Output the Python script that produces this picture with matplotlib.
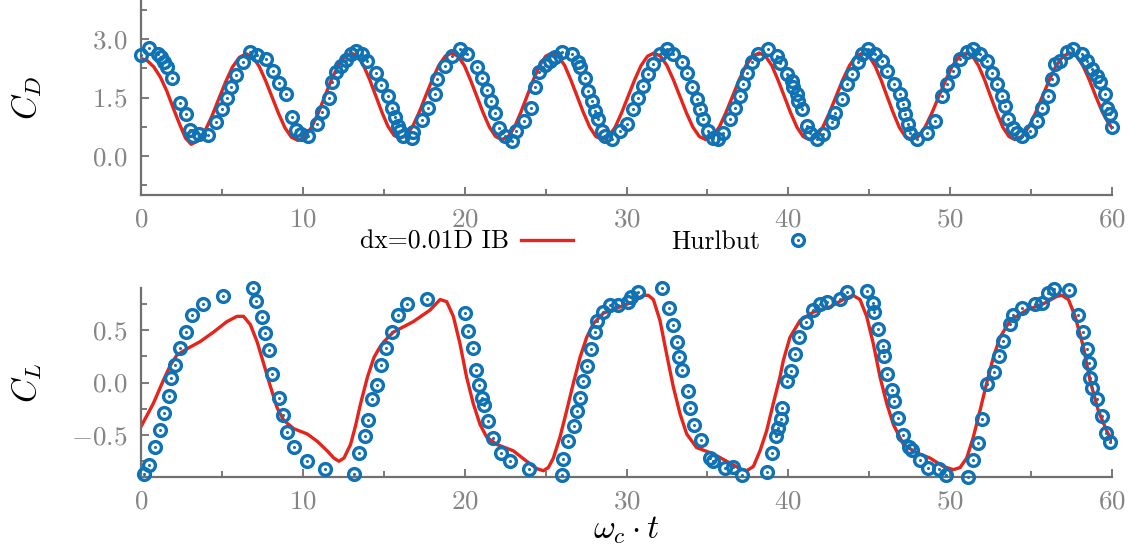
import matplotlib
matplotlib.use("Agg")
import matplotlib.pyplot as plt
from matplotlib.ticker import MultipleLocator, FuncFormatter
from matplotlib.legend_handler import HandlerTuple

plt.rcParams['mathtext.fontset'] = 'cm'
plt.rcParams['font.family'] = ['cmr10', 'DejaVu Serif']
plt.rcParams['axes.unicode_minus'] = False

# ---------------- data ----------------
# Drag coefficient, IB simulation (red line)
cd_ib_t = [0.00, 0.40, 0.80, 1.20, 1.60, 2.00, 2.40, 2.75, 3.10, 3.53, 3.95, 4.38, 4.80, 5.23, 5.65, 6.08,
           6.50, 6.90, 7.30, 7.70, 8.10, 8.50, 8.90, 9.30, 9.70, 10.11, 10.53, 10.94, 11.35, 11.76, 12.18,
           12.59, 13.00, 13.38, 13.75, 14.13, 14.50, 14.88, 15.25, 15.63, 16.00, 16.40, 16.80, 17.20, 17.60,
           18.00, 18.40, 18.80, 19.20, 19.59, 19.98, 20.36, 20.75, 21.14, 21.53, 21.91, 22.30, 22.69, 23.08,
           23.46, 23.85, 24.24, 24.63, 25.01, 25.40, 25.79, 26.18, 26.56, 26.95, 27.34, 27.73, 28.11, 28.50,
           28.90, 29.30, 29.70, 30.10, 30.50, 30.90, 31.30, 31.70, 32.10, 32.50, 32.90, 33.30, 33.70, 34.10,
           34.50, 34.90, 35.31, 35.73, 36.14, 36.55, 36.96, 37.38, 37.79, 38.20, 38.59, 38.98, 39.36, 39.75,
           40.14, 40.53, 40.91, 41.30, 41.71, 42.13, 42.54, 42.95, 43.36, 43.78, 44.19, 44.60, 44.98, 45.35,
           45.73, 46.10, 46.48, 46.85, 47.23, 47.60, 48.03, 48.45, 48.88, 49.30, 49.73, 50.15, 50.58, 51.00,
           51.38, 51.75, 52.13, 52.50, 52.88, 53.25, 53.63, 54.00, 54.43, 54.85, 55.28, 55.70, 56.13, 56.55,
           56.98, 57.40, 57.80, 58.20, 58.60, 59.00, 59.40, 59.70, 60.00]
cd_ib = [2.50, 2.44, 2.28, 2.02, 1.66, 1.22, 0.80, 0.46, 0.30, 0.39, 0.64, 1.02, 1.46, 1.90, 2.28, 2.53,
         2.62, 2.54, 2.30, 1.93, 1.51, 1.09, 0.72, 0.48, 0.40, 0.49, 0.73, 1.09, 1.52, 1.95, 2.31,
         2.55, 2.64, 2.56, 2.32, 1.96, 1.55, 1.13, 0.77, 0.53, 0.45, 0.53, 0.77, 1.13, 1.55,
         1.96, 2.32, 2.56, 2.64, 2.56, 2.32, 1.95, 1.53, 1.11, 0.74, 0.50, 0.42, 0.50, 0.74,
         1.11, 1.53, 1.95, 2.32, 2.56, 2.64, 2.56, 2.32, 1.95, 1.53, 1.11, 0.74, 0.50, 0.42,
         0.50, 0.74, 1.11, 1.53, 1.95, 2.32, 2.56, 2.64, 2.56, 2.32, 1.95, 1.53, 1.11, 0.74,
         0.50, 0.42, 0.50, 0.74, 1.11, 1.53, 1.95, 2.32, 2.56, 2.64, 2.56, 2.32, 1.95, 1.53,
         1.11, 0.74, 0.50, 0.42, 0.50, 0.74, 1.11, 1.53, 1.95, 2.32, 2.56, 2.64, 2.56, 2.32,
         1.95, 1.53, 1.11, 0.74, 0.50, 0.42, 0.50, 0.74, 1.11, 1.53, 1.95, 2.32, 2.56, 2.64,
         2.56, 2.32, 1.95, 1.53, 1.11, 0.74, 0.50, 0.42, 0.50, 0.74, 1.11, 1.53, 1.95, 2.32,
         2.56, 2.64, 2.56, 2.32, 1.95, 1.53, 1.13, 0.90, 0.72]

# Drag coefficient, Hurlbut (circles)
cd_hb_t = [0.00, 0.50, 1.07, 1.25, 1.40, 1.59, 1.94, 2.42, 2.77, 3.04, 3.24, 3.60, 4.11, 4.65, 5.00, 5.31,
           5.58, 5.87, 6.28, 6.76, 7.17, 7.73, 8.16, 8.51, 8.93, 9.30, 9.55, 9.86, 10.33, 10.89, 11.20,
           11.61, 11.78, 12.02, 12.33, 12.64, 12.95, 13.26, 13.68, 13.99, 14.50, 14.84, 15.28, 15.49, 15.70,
           15.90, 16.00, 16.20, 16.72, 16.83, 17.35, 17.76, 18.17, 18.31, 18.78, 19.20, 19.71, 20.17, 20.74,
           21.09, 21.40, 21.63, 21.87, 22.14, 22.49, 22.90, 23.17, 23.66, 24.08, 24.35, 24.61, 24.96, 25.27,
           25.58, 25.99, 26.61, 27.02, 27.13, 27.44, 27.64, 27.85, 28.05, 28.26, 28.47, 28.67, 29.12, 29.60,
           30.00, 30.42, 30.73, 31.04, 31.35, 31.66, 32.07, 32.48, 32.89, 33.40, 33.72, 34.03, 34.34, 34.54,
           34.75, 35.06, 35.37, 35.68, 35.99, 36.40, 36.71, 37.02, 37.22, 37.43, 37.74, 38.15, 38.76, 39.28,
           39.50, 39.90, 40.20, 40.31, 40.51, 40.62, 40.83, 41.13, 41.34, 41.75, 42.16, 42.67, 42.88, 43.30,
           43.61, 43.92, 44.33, 44.54, 44.95, 45.36, 45.78, 46.08, 46.50, 46.90, 47.10, 47.21, 47.42, 47.52,
           47.93, 48.55, 49.06, 49.48, 49.79, 50.19, 50.60, 51.02, 51.43, 51.84, 52.25, 52.56, 52.87, 53.18,
           53.39, 53.60, 53.90, 54.11, 54.42, 54.93, 55.35, 55.66, 56.07, 56.27, 56.48, 56.79, 57.20, 57.60,
           58.12, 58.43, 58.74, 59.05, 59.25, 59.56, 59.67, 59.88, 60.00]
cd_hb = [2.59, 2.76, 2.61, 2.53, 2.42, 2.27, 1.99, 1.35, 1.07, 0.66, 0.51, 0.56, 0.53, 0.87, 1.20, 1.48,
         1.78, 2.07, 2.40, 2.67, 2.59, 2.50, 2.19, 1.87, 1.59, 0.99, 0.67, 0.56, 0.51, 0.83, 1.13,
         1.50, 1.89, 2.16, 2.31, 2.46, 2.61, 2.70, 2.61, 2.44, 2.14, 1.83, 1.54, 1.24, 0.99,
         0.77, 0.64, 0.51, 0.45, 0.62, 0.93, 1.24, 1.59, 1.97, 2.31, 2.57, 2.74, 2.61, 2.27,
         1.99, 1.70, 1.40, 1.11, 0.73, 0.51, 0.39, 0.64, 0.90, 1.22, 1.78, 2.16, 2.33, 2.44,
         2.53, 2.66, 2.61, 2.40, 2.27, 2.01, 1.67, 1.41, 1.16, 0.94, 0.64, 0.51, 0.43, 0.64,
         0.81, 1.20, 1.50, 1.80, 2.10, 2.36, 2.61, 2.74, 2.61, 2.40, 2.14, 1.76, 1.46, 1.20,
         0.94, 0.64, 0.47, 0.43, 0.60, 0.94, 1.24, 1.54, 1.84, 2.14, 2.40, 2.61, 2.74, 2.57,
         2.38, 2.10, 1.93, 1.76, 1.59, 1.41, 1.20, 0.77, 0.60, 0.43, 0.56, 0.86, 1.11, 1.47,
         1.84, 2.10, 2.40, 2.61, 2.74, 2.61, 2.44, 2.19, 1.84, 1.59, 1.33, 1.07, 0.81, 0.60,
         0.43, 0.60, 0.90, 1.54, 1.84, 2.19, 2.49, 2.66, 2.74, 2.61, 2.44, 2.14, 1.84, 1.54,
         1.29, 0.94, 0.73, 0.60, 0.51, 0.64, 0.90, 1.24, 1.54, 1.97, 2.36, 2.44, 2.66, 2.74,
         2.61, 2.44, 2.23, 2.06, 1.89, 1.59, 1.24, 1.07, 0.74]

# Lift coefficient, IB simulation (red line)
cl_ib_t = [0.00, 0.76, 1.38, 1.80, 2.21, 2.83, 3.66, 4.48, 5.31, 5.93, 6.34, 6.76, 7.17, 7.58, 8.00, 8.41,
           8.82, 9.44, 10.27, 10.89, 11.50, 11.92, 12.23, 12.54, 12.95, 13.26, 13.57, 13.99, 14.40, 14.77,
           15.02, 15.59, 16.83, 17.86, 18.48, 18.89, 19.30, 19.71, 20.12, 20.53, 20.95, 21.36, 21.98, 23.00,
           23.83, 24.45, 24.86, 25.17, 25.48, 25.89, 26.30, 26.71, 27.13, 27.54, 27.95, 28.57, 29.60, 30.42,
           31.04, 31.35, 31.66, 32.07, 32.48, 32.89, 33.31, 33.72, 34.33, 35.37, 36.19, 37.01, 37.43, 37.84,
           38.25, 38.66, 39.07, 39.48, 39.69, 40.10, 40.72, 41.54, 42.57, 43.39, 44.00, 44.43, 44.84, 45.25,
           45.67, 46.08, 46.49, 47.11, 47.93, 48.76, 49.58, 50.20, 50.61, 51.02, 51.43, 51.84, 52.25, 52.67,
           53.08, 53.70, 54.73, 55.76, 56.59, 56.90, 57.31, 57.72, 58.23, 58.64, 59.16, 59.67, 60.00]
cl_ib = [-0.42, -0.20, 0.02, 0.16, 0.26, 0.32, 0.39, 0.48, 0.58, 0.63, 0.63, 0.55, 0.39, 0.18, -0.04, -0.24,
         -0.36, -0.44, -0.49, -0.56, -0.65, -0.72, -0.75, -0.72, -0.59, -0.41, -0.20, 0.05, 0.24, 0.34,
         0.39, 0.48, 0.58, 0.69, 0.79, 0.77, 0.63, 0.37, 0.05, -0.20, -0.40, -0.52, -0.59, -0.65,
         -0.75, -0.82, -0.84, -0.81, -0.72, -0.52, -0.27, -0.01, 0.24, 0.43, 0.56, 0.66, 0.72, 0.77,
         0.83, 0.83, 0.79, 0.59, 0.27, -0.04, -0.30, -0.49, -0.62, -0.68, -0.75, -0.82, -0.84, -0.80,
         -0.65, -0.46, -0.20, 0.05, 0.21, 0.43, 0.59, 0.67, 0.72, 0.79, 0.83, 0.79, 0.63, 0.37,
         0.05, -0.20, -0.40, -0.59, -0.67, -0.72, -0.80, -0.83, -0.81, -0.72, -0.52, -0.27, -0.01, 0.24,
         0.43, 0.59, 0.69, 0.75, 0.82, 0.83, 0.79, 0.63, 0.34, 0.02, -0.27, -0.46, -0.56]

# Lift coefficient, Hurlbut (circles)
cl_hb_t = [0.19, 0.50, 0.87, 1.18, 1.43, 1.74, 1.84, 2.11, 2.38, 2.79, 3.18, 3.82, 5.04, 6.90, 7.13, 7.48,
           7.69, 7.89, 8.10, 8.51, 8.78, 9.03, 9.44, 10.23, 11.40, 13.16, 13.47, 13.82, 14.05, 14.30, 14.61,
           14.81, 15.12, 15.54, 15.85, 16.42, 17.65, 20.02, 20.23, 20.53, 20.68, 20.89, 21.05, 21.20, 21.46,
           21.73, 22.23, 22.80, 23.98, 26.00, 26.06, 26.37, 26.76, 26.96, 27.13, 27.29, 27.54, 27.79, 28.05,
           28.16, 28.53, 28.98, 29.50, 30.11, 30.26, 30.73, 32.21, 32.65, 32.89, 33.10, 33.27, 33.41, 33.82,
           33.92, 34.19, 34.58, 35.16, 35.37, 36.09, 36.60, 37.12, 38.66, 38.97, 39.24, 39.38, 39.53, 39.63,
           39.90, 40.14, 40.41, 40.68, 41.09, 41.50, 41.96, 42.37, 43.19, 43.60, 44.88, 45.21, 45.29, 45.56,
           45.83, 45.93, 46.08, 46.39, 46.53, 46.80, 47.07, 47.48, 47.62, 48.14, 48.65, 49.33, 49.74, 51.12,
           51.43, 51.70, 51.95, 52.30, 52.73, 53.04, 53.29, 53.70, 53.90, 54.46, 55.24, 55.65, 56.02, 56.42,
           57.36, 57.92, 58.19, 58.47, 58.58, 58.64, 58.78, 59.10, 59.36, 59.63, 59.88]
cl_hb = [-0.87, -0.79, -0.61, -0.45, -0.29, -0.13, 0.04, 0.17, 0.33, 0.48, 0.64, 0.75, 0.82, 0.90, 0.78, 0.62,
         0.47, 0.31, 0.08, -0.15, -0.31, -0.47, -0.61, -0.75, -0.82, -0.87, -0.67, -0.51, -0.36, -0.16, -0.02,
         0.17, 0.33, 0.48, 0.64, 0.75, 0.80, 0.66, 0.49, 0.33, 0.12, -0.02, -0.15, -0.21, -0.37,
         -0.53, -0.67, -0.75, -0.82, -0.88, -0.73, -0.56, -0.41, -0.27, -0.15, 0.01, 0.16, 0.32, 0.48,
         0.59, 0.67, 0.74, 0.74, 0.77, 0.81, 0.86, 0.90, 0.71, 0.55, 0.39, 0.24, 0.12, -0.08,
         -0.24, -0.40, -0.55, -0.72, -0.75, -0.81, -0.80, -0.88, -0.85, -0.67, -0.51, -0.43, -0.35, -0.24,
         0.01, 0.11, 0.27, 0.43, 0.58, 0.69, 0.75, 0.77, 0.80, 0.86, 0.87, 0.76, 0.67, 0.51,
         0.35, 0.25, 0.08, -0.07, -0.18, -0.34, -0.50, -0.61, -0.64, -0.74, -0.81, -0.82, -0.88, -0.90,
         -0.74, -0.58, -0.35, -0.01, 0.10, 0.25, 0.40, 0.56, 0.64, 0.71, 0.75, 0.76, 0.85, 0.89,
         0.88, 0.64, 0.48, 0.32, 0.19, 0.04, -0.05, -0.16, -0.32, -0.48, -0.57]

x_ticks = [0, 10, 20, 30, 40, 50, 60]
cd_ticks = [0.0, 1.5, 3.0]
cl_ticks = [-0.5, 0.0, 0.5]

label_ib = 'dx=0.01D IB'
label_hb = 'Hurlbut'

# ---------------- style ----------------
RED = '#e5241b'
BLUE = '#0f72b4'
GRAY = '#707070'
TICKC = '#858585'

W, H = 1132, 549
fig = plt.figure(figsize=(W / 100, H / 100), dpi=100)
ax1 = fig.add_axes([141 / W, 1 - 195 / H, 971 / W, 195 / H])
ax2 = fig.add_axes([141 / W, 1 - 477 / H, 971 / W, 189 / H])


def style(ax, yt, ylim, minor):
    for s in ['top', 'right']:
        ax.spines[s].set_visible(False)
    for s in ['left', 'bottom']:
        ax.spines[s].set_color(GRAY)
        ax.spines[s].set_linewidth(1.6)
    ax.set_xlim(0, 60)
    ax.set_ylim(*ylim)
    ax.set_xticks(x_ticks)
    ax.xaxis.set_minor_locator(MultipleLocator(5))
    ax.set_yticks(yt)
    ax.yaxis.set_minor_locator(MultipleLocator(minor))
    ax.tick_params(which='both', direction='in', color=GRAY, width=1.3, labelcolor=TICKC,
                   labelsize=19.5)
    ax.tick_params(which='major', length=6)
    ax.tick_params(which='minor', length=4)
    ax.tick_params(axis='x', pad=9)
    ax.tick_params(axis='y', pad=10)
    ax.xaxis.set_major_formatter(FuncFormatter(lambda v, p: r'$%d$' % v))
    ax.yaxis.set_major_formatter(FuncFormatter(lambda v, p: r'$%.1f$' % v))


style(ax1, cd_ticks, (-1.0, 4.0), 0.75)
style(ax2, cl_ticks, (-0.9, 0.9), 0.25)

ms, mew = 8.5, 2.4
for ax, tt, yy, th, yh in [(ax1, cd_ib_t, cd_ib, cd_hb_t, cd_hb), (ax2, cl_ib_t, cl_ib, cl_hb_t, cl_hb)]:
    l_ib, = ax.plot(tt, yy, color=RED, lw=2.4, zorder=2)
    h_o, = ax.plot(th, yh, ls='none', marker='o', ms=ms, mfc='none', mec=BLUE, mew=mew,
                   zorder=3, clip_on=False)
    h_d, = ax.plot(th, yh, ls='none', marker='o', ms=2.2, mfc=BLUE, mec=BLUE, mew=0,
                   zorder=3, clip_on=False)

ax1.set_ylabel(r'$C_D$', fontsize=24)
ax1.yaxis.set_label_coords(-0.100, 0.5)
ax2.set_ylabel(r'$C_L$', fontsize=24)
ax2.yaxis.set_label_coords(-0.100, 0.5)
ax2.set_xlabel(r'$\omega_c \cdot t$', fontsize=24)
ax2.xaxis.set_label_coords(0.5, -0.20)

fig.legend([l_ib, (h_o, h_d)], [label_ib, label_hb], loc='center',
           bbox_to_anchor=(592 / W, 1 - 242 / H), ncol=2, frameon=False, markerfirst=False,
           fontsize=18.5, handlelength=2.0, handletextpad=0.48, columnspacing=3.85, numpoints=1,
           handler_map={tuple: HandlerTuple(ndivide=1)})

fig.savefig('out.png', dpi=100)
